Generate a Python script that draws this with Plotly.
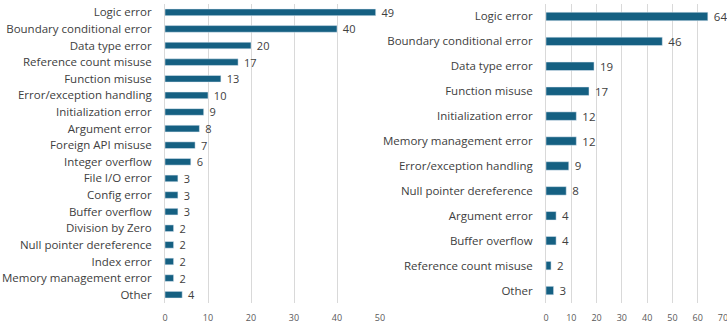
import plotly.graph_objects as go

left_categories = ["Logic error", "Boundary conditional error", "Data type error",
                   "Reference count misuse", "Function misuse", "Error/exception handling",
                   "Initialization error", "Argument error", "Foreign API misuse",
                   "Integer overflow", "File I/O error", "Config error", "Buffer overflow",
                   "Division by Zero", "Null pointer dereference", "Index error",
                   "Memory management error", "Other"]
left_values = [49, 40, 20, 17, 13, 10, 9, 8, 7, 6, 3, 3, 3, 2, 2, 2, 2, 4]

right_categories = ["Logic error", "Boundary conditional error", "Data type error",
                    "Function misuse", "Initialization error", "Memory management error",
                    "Error/exception handling", "Null pointer dereference", "Argument error",
                    "Buffer overflow", "Reference count misuse", "Other"]
right_values = [64, 46, 19, 17, 12, 12, 9, 8, 4, 4, 2, 3]

left_ticks = [0, 10, 20, 30, 40, 50]
right_ticks = [0, 10, 20, 30, 40, 50, 60, 70]

BAR = "#156082"
TXT = "#404040"
GRID = "#d9d9d9"
FONT = "Open Sans, Liberation Sans, Arial, sans-serif"

W, H = 727, 326
fig = go.Figure()
fig.add_trace(go.Bar(
    x=left_values, y=left_categories, orientation="h", marker_color=BAR,
    text=[f" {v}" for v in left_values], textposition="outside", cliponaxis=False,
    constraintext="none",
    textfont=dict(size=11, color=TXT, family=FONT), xaxis="x", yaxis="y", width=0.4))
fig.add_trace(go.Bar(
    x=right_values, y=right_categories, orientation="h", marker_color=BAR,
    text=[f" {v}" for v in right_values], textposition="outside", cliponaxis=False,
    constraintext="none",
    textfont=dict(size=11.5, color=TXT, family=FONT), xaxis="x2", yaxis="y2", width=0.34))

ydom = [1 - 303 / H, 1 - 4 / H]
common_x = dict(showgrid=True, gridcolor=GRID, gridwidth=1, zeroline=False,
                showline=False, tickfont=dict(size=9, color="#595959", family=FONT),
                ticks="outside", ticklen=6, tickcolor="rgba(0,0,0,0)", automargin=False,
                ticklabeloverflow="allow")
common_y = dict(autorange="reversed", showgrid=False, showline=True, linecolor=GRID,
                linewidth=1, tickfont=dict(size=11.5, color=TXT, family=FONT),
                ticks="outside", ticklen=10, tickcolor="rgba(0,0,0,0)", automargin=False)

fig.update_layout(
    width=W, height=H, margin=dict(l=0, r=0, t=0, b=0),
    paper_bgcolor="white", plot_bgcolor="white", showlegend=False,
    font=dict(family=FONT, color=TXT),
    bargap=0.5,
    xaxis=dict(domain=[165 / W, 380 / W], range=[0, 50], tickvals=left_ticks,
               anchor="y", **common_x),
    yaxis=dict(domain=ydom, anchor="x", **common_y),
    xaxis2=dict(domain=[546 / W, 723 / W], range=[0, 70], tickvals=right_ticks,
                anchor="y2", **common_x),
    yaxis2=dict(domain=ydom, anchor="x2", **common_y),
)

fig.write_html("out.html")
